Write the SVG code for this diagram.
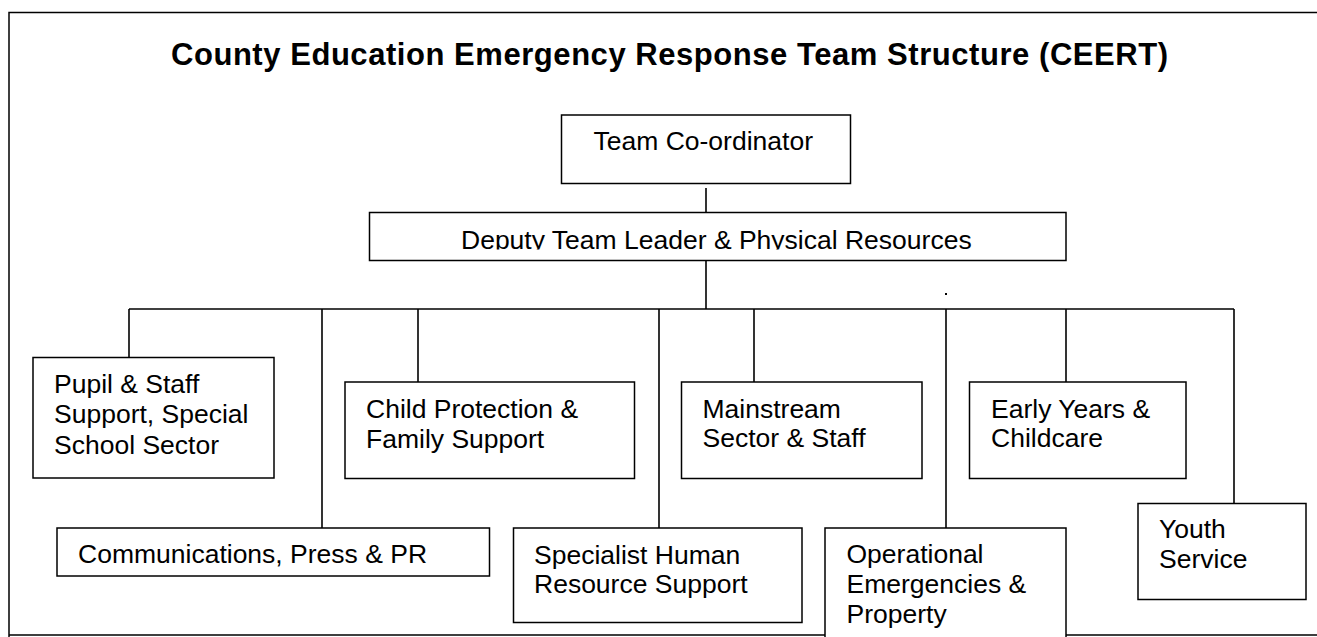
<svg xmlns="http://www.w3.org/2000/svg" width="1317" height="637" viewBox="0 0 1317 637">
  <style>
    .box { fill: #ffffff; stroke: #000000; stroke-width: 1.5; }
    .frame { fill: none; stroke: #000000; stroke-width: 1.5; }
    .link { fill: none; stroke: #000000; stroke-width: 1.6; }
    .label { font-family: "Liberation Sans", Arial, sans-serif; font-size: 26.5px; fill: #000000; }
    .title { font-family: "Liberation Sans", Arial, sans-serif; font-size: 31px; font-weight: bold; fill: #000000; }
  </style>
  <defs>
    <clipPath id="deputyClip">
      <rect x="370" y="213" width="696" height="36.5"/>
    </clipPath>
  </defs>

  <rect x="0" y="0" width="1317" height="637" fill="#ffffff"/>

  <!-- page frame -->
  <path class="frame" d="M9 637 V12.5 H1317 M9 635 H1317"/>

  <text class="title" x="171" y="64.5" textLength="997" lengthAdjust="spacing">County Education Emergency Response Team Structure (CEERT)</text>

  <!-- connectors -->
  <g id="connectors">
    <path class="link" d="M706 188 V212.5"/>
    <path class="link" d="M706 260.5 V309"/>
    <path class="link" d="M129 309 H1234"/>
    <path class="link" d="M129 309 V357.5"/>
    <path class="link" d="M322 309 V528"/>
    <path class="link" d="M418 309 V382"/>
    <path class="link" d="M659 309 V528"/>
    <path class="link" d="M754 309 V382"/>
    <path class="link" d="M946 309 V528"/>
    <path class="link" d="M1066 309 V382"/>
    <path class="link" d="M1234 309 V503.5"/>
    <rect x="945" y="293" width="2" height="2" fill="#000000"/>
  </g>

  <g id="team-coordinator">
    <rect class="box" x="561.5" y="115" width="289" height="68.5"/>
    <text class="label" x="593.5" y="150">Team Co-ordinator</text>
  </g>

  <g id="deputy-team-leader">
    <rect class="box" x="369.5" y="212.5" width="696.5" height="48"/>
    <text class="label" x="461" y="249" clip-path="url(#deputyClip)">Deputy Team Leader &amp; Physical Resources</text>
  </g>

  <g id="pupil-staff-support">
    <rect class="box" x="33" y="357.5" width="241" height="120.5"/>
    <text class="label" x="54" y="392.7">Pupil &amp; Staff</text>
    <text class="label" x="54" y="423.3">Support, Special</text>
    <text class="label" x="54" y="454">School Sector</text>
  </g>

  <g id="child-protection">
    <rect class="box" x="345" y="382" width="289.5" height="96.5"/>
    <text class="label" x="366" y="418.3">Child Protection &amp;</text>
    <text class="label" x="366" y="448">Family Support</text>
  </g>

  <g id="mainstream-sector">
    <rect class="box" x="681.5" y="382" width="240.5" height="96.5"/>
    <text class="label" x="702.5" y="417.5">Mainstream</text>
    <text class="label" x="702.5" y="447">Sector &amp; Staff</text>
  </g>

  <g id="early-years">
    <rect class="box" x="969.5" y="382" width="216.5" height="96.5"/>
    <text class="label" x="991" y="417.5">Early Years &amp;</text>
    <text class="label" x="991" y="447">Childcare</text>
  </g>

  <g id="communications">
    <rect class="box" x="57" y="528" width="432.5" height="48"/>
    <text class="label" x="78" y="562.5">Communications, Press &amp; PR</text>
  </g>

  <g id="specialist-hr">
    <rect class="box" x="513.5" y="528" width="288.5" height="94.5"/>
    <text class="label" x="534" y="563.5">Specialist Human</text>
    <text class="label" x="534" y="593">Resource Support</text>
  </g>

  <g id="operational-emergencies">
    <rect class="box" x="825" y="528" width="241" height="122"/>
    <text class="label" x="846.5" y="562.5">Operational</text>
    <text class="label" x="846.5" y="592.5">Emergencies &amp;</text>
    <text class="label" x="846.5" y="623">Property</text>
  </g>

  <g id="youth-service">
    <rect class="box" x="1138" y="503.5" width="168" height="96"/>
    <text class="label" x="1159" y="538">Youth</text>
    <text class="label" x="1159" y="568">Service</text>
  </g>
</svg>
